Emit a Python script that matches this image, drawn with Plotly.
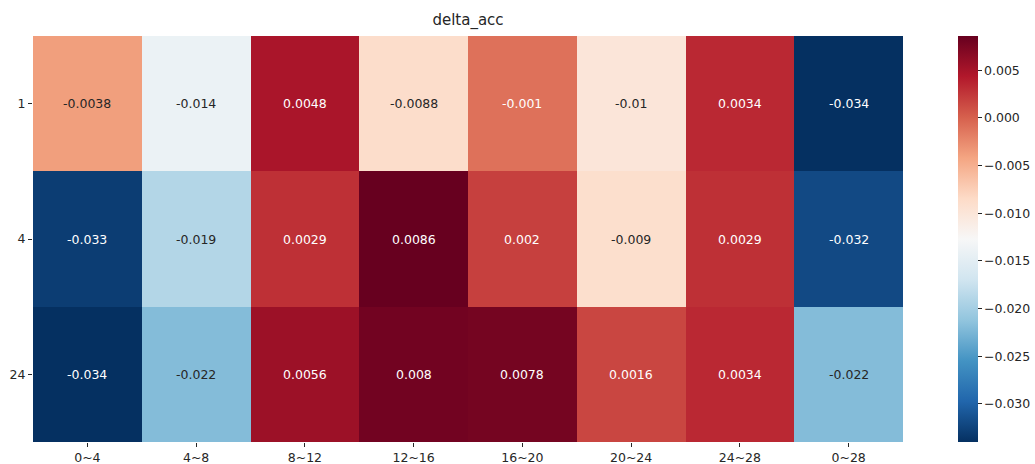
import plotly.graph_objects as go

# Accuracy deltas per group (rows) and window (columns)
windows = ["0~4", "4~8", "8~12", "12~16", "16~20", "20~24", "24~28", "0~28"]
groups = ["1", "4", "24"]
row_1 = [-0.0038, -0.014, 0.0048, -0.0088, -0.001, -0.01, 0.0034, -0.034]
row_4 = [-0.033, -0.019, 0.0029, 0.0086, 0.002, -0.009, 0.0029, -0.032]
row_24 = [-0.034, -0.022, 0.0056, 0.008, 0.0078, 0.0016, 0.0034, -0.022]
cbar_ticks = [-0.030, -0.025, -0.020, -0.015, -0.010, -0.005, 0.000, 0.005]

z = [row_1, row_4, row_24]

# Diverging red-blue palette, low values blue, high values red
palette = ["#053061", "#2166ac", "#4393c3", "#92c5de", "#d1e5f0", "#f7f7f7",
           "#fddbc7", "#f4a582", "#d6604d", "#b2182b", "#67001f"]
colorscale = [[i / (len(palette) - 1), c] for i, c in enumerate(palette)]

zmin = min(min(r) for r in z)
zmax = max(max(r) for r in z)


def hex_rgb(h):
    h = h.lstrip("#")
    return [int(h[i:i + 2], 16) / 255 for i in (0, 2, 4)]


def color_at(v):
    t = (v - zmin) / (zmax - zmin)
    n = len(palette) - 1
    k = min(int(t * n), n - 1)
    f = t * n - k
    a, b = hex_rgb(palette[k]), hex_rgb(palette[k + 1])
    return [a[j] + (b[j] - a[j]) * f for j in range(3)]


def luminance(rgb):
    lin = [c / 12.92 if c <= 0.03928 else ((c + 0.055) / 1.055) ** 2.4 for c in rgb]
    return 0.2126 * lin[0] + 0.7152 * lin[1] + 0.0722 * lin[2]


annotations = []
for gi in range(len(groups)):
    for wi in range(len(windows)):
        v = z[gi][wi]
        txt_color = "#262626" if luminance(color_at(v)) > 0.408 else "#ffffff"
        # positions are category indices on both axes
        annotations.append(dict(
            x=wi, y=gi, xref="x", yref="y", text=format(v, ".2g"),
            showarrow=False, font=dict(color=txt_color, size=12.5,
                                       family="DejaVu Sans"),
        ))

fig = go.Figure(go.Heatmap(
    z=z, x=windows, y=groups, colorscale=colorscale, zmin=zmin, zmax=zmax,
    xgap=0, ygap=0,
    colorbar=dict(
        thickness=20, len=1, lenmode="fraction", y=0.5, yanchor="middle",
        x=1.063, xanchor="left", xpad=0, ypad=0, outlinewidth=0,
        tickvals=cbar_ticks,
        ticktext=[f"{t:.3f}".replace("-", "\u2212") for t in cbar_ticks],
        ticks="outside", ticklen=4, tickwidth=1, tickcolor="#262626",
        tickfont=dict(size=12.5, color="#262626", family="DejaVu Sans"),
    ),
))

fig.update_layout(
    width=1035, height=464,
    margin=dict(l=33, r=132, t=36, b=22, autoexpand=False),
    paper_bgcolor="white", plot_bgcolor="white",
    title=dict(text="delta_acc", x=(33 + 903) / 2 / 1035, xanchor="center",
               y=1 - 20 / 464, yanchor="middle",
               font=dict(size=15, color="#262626", family="DejaVu Sans")),
    font=dict(family="DejaVu Sans", color="#262626"),
    annotations=annotations,
)
fig.update_xaxes(type="category", showgrid=False, zeroline=False,
                 ticks="outside", ticklen=4, tickwidth=1, tickcolor="#262626",
                 tickfont=dict(size=12.5, color="#262626"), showline=False)
fig.update_yaxes(type="category", autorange="reversed", showgrid=False,
                 zeroline=False, ticks="outside", ticklen=4, tickwidth=1,
                 tickcolor="#262626", tickfont=dict(size=12.5, color="#262626"),
                 showline=False)

fig.write_html("out.html")
